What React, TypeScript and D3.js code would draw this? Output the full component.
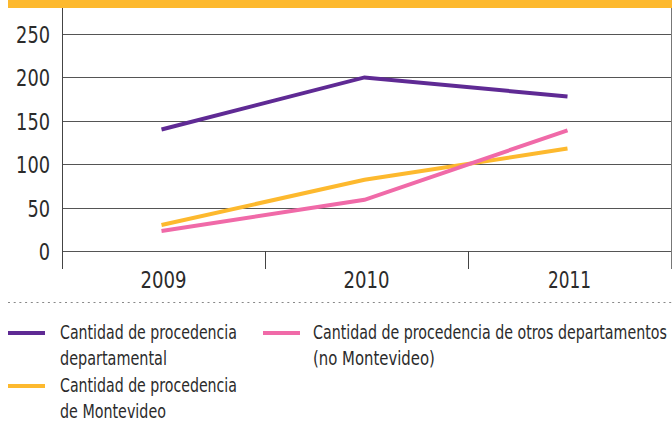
import React, { useLayoutEffect, useRef, useState } from "react";
import * as d3 from "d3";

const years = ["2009", "2010", "2011"];
const departamental = [140, 200, 178];
const montevideo = [30, 82, 118];
const otrosDeptos = [23, 59, 139];
const yTicks = [0, 50, 100, 150, 200, 250];

const series = [
  { name: "departamental", values: departamental, color: "#5f2a94" },
  { name: "montevideo", values: montevideo, color: "#fdb92e" },
  { name: "otros", values: otrosDeptos, color: "#f06aa8" },
];

const legendItems = [
  { color: "#5f2a94", lines: ["Cantidad de procedencia", "departamental"], col: 0, row: 0 },
  { color: "#fdb92e", lines: ["Cantidad de procedencia", "de Montevideo"], col: 0, row: 1 },
  { color: "#f06aa8", lines: ["Cantidad de procedencia de otros departamentos", "(no Montevideo)"], col: 1, row: 0 },
];

// rendered widths of the legend lines (condensed face in the original)
const legendWidths = [
  [177, 107],
  [177, 106],
  [354, 122],
];

const W = 672;
const H = 423;
const font = "'DejaVu Sans Condensed', 'DejaVu Sans', sans-serif";
const textColor = "#2b2b2b";

// squeezes a text horizontally to a given width (the original uses a condensed face)
function FitText({ x, y, width, size, children }: { x: number; y: number; width: number; size: number; children: string }) {
  const ref = useRef<SVGTextElement>(null);
  const [sx, setSx] = useState(1);
  useLayoutEffect(() => {
    if (!ref.current) return;
    const natural = ref.current.getComputedTextLength();
    if (natural > 0) setSx(width / natural);
  }, [children, width]);
  return (
    <text
      ref={ref}
      transform={`translate(${x},${y}) scale(${sx},1)`}
      fontSize={size}
      fill={textColor}
    >
      {children}
    </text>
  );
}

export default function App() {
  const left = 62;
  const right = 671;
  const top = 8;
  const axisBottom = 269;

  const x = d3.scaleBand<string>().domain(years).range([left, right]);
  const y = d3.scaleLinear().domain([0, 250]).range([251, 34]);

  // the original plots points a little left of the band centres
  const px = (i: number) => x(years[i])! + x.bandwidth() / 2 - 2;

  const line = d3
    .line<number>()
    .x((_, i) => px(i))
    .y((d) => y(d));

  return (
    <svg
      width={W}
      height={H}
      style={{ position: "absolute", left: 0, top: 0, background: "#fff" }}
      fontFamily={font}
    >
      {/* top bar */}
      <rect x={8} y={0} width={W - 8} height={8} fill="#fdb92e" />

      {/* grid + y labels */}
      {yTicks.map((t) => {
        const gy = Math.round(y(t)) + 0.5;
        const s = String(t);
        return (
          <g key={t}>
            <line x1={left} x2={right} y1={gy} y2={gy} stroke="#555" strokeWidth={1} />
            <text
              x={50}
              y={gy + 8}
              textAnchor="end"
              fontSize={23}
              fill={textColor}
              textLength={s.length * 11.3}
              lengthAdjust="spacingAndGlyphs"
            >
              {s}
            </text>
          </g>
        );
      })}

      {/* frame */}
      <line x1={left + 0.5} x2={left + 0.5} y1={top} y2={axisBottom} stroke="#444" />
      <line x1={right + 0.5} x2={right + 0.5} y1={top} y2={axisBottom} stroke="#777" />
      {years.slice(1).map((yr) => (
        <line
          key={yr}
          x1={Math.round(x(yr)!) + 0.5}
          x2={Math.round(x(yr)!) + 0.5}
          y1={y(0)}
          y2={axisBottom}
          stroke="#444"
        />
      ))}

      {/* x labels */}
      {years.map((yr) => (
        <text
          key={yr}
          x={x(yr)! + x.bandwidth() / 2}
          y={288}
          textAnchor="middle"
          fontSize={23}
          fill={textColor}
          textLength={yr.endsWith("11") ? 43 : 46}
          lengthAdjust="spacingAndGlyphs"
        >
          {yr}
        </text>
      ))}

      {/* series */}
      {series.map((s) => (
        <path
          key={s.name}
          d={line(s.values) ?? ""}
          fill="none"
          stroke={s.color}
          strokeWidth={4}
        />
      ))}

      {/* divider */}
      <line
        x1={8}
        x2={W}
        y1={302.5}
        y2={302.5}
        stroke="#888"
        strokeDasharray="2 3.7"
      />

      {/* legend */}
      {legendItems.map((it, i) => {
        const lx = it.col === 0 ? 8 : 263;
        const ly = it.row === 0 ? 333 : 386;
        return (
          <g key={i}>
            <line x1={lx} x2={lx + 37} y1={ly} y2={ly} stroke={it.color} strokeWidth={4} />
            {it.lines.map((l, j) => (
              <FitText
                key={j}
                x={lx + (it.col === 0 ? 52 : 50)}
                y={ly + 6 + j * 26}
                size={19}
                width={legendWidths[i][j]}
              >
                {l}
              </FitText>
            ))}
          </g>
        );
      })}
    </svg>
  );
}
